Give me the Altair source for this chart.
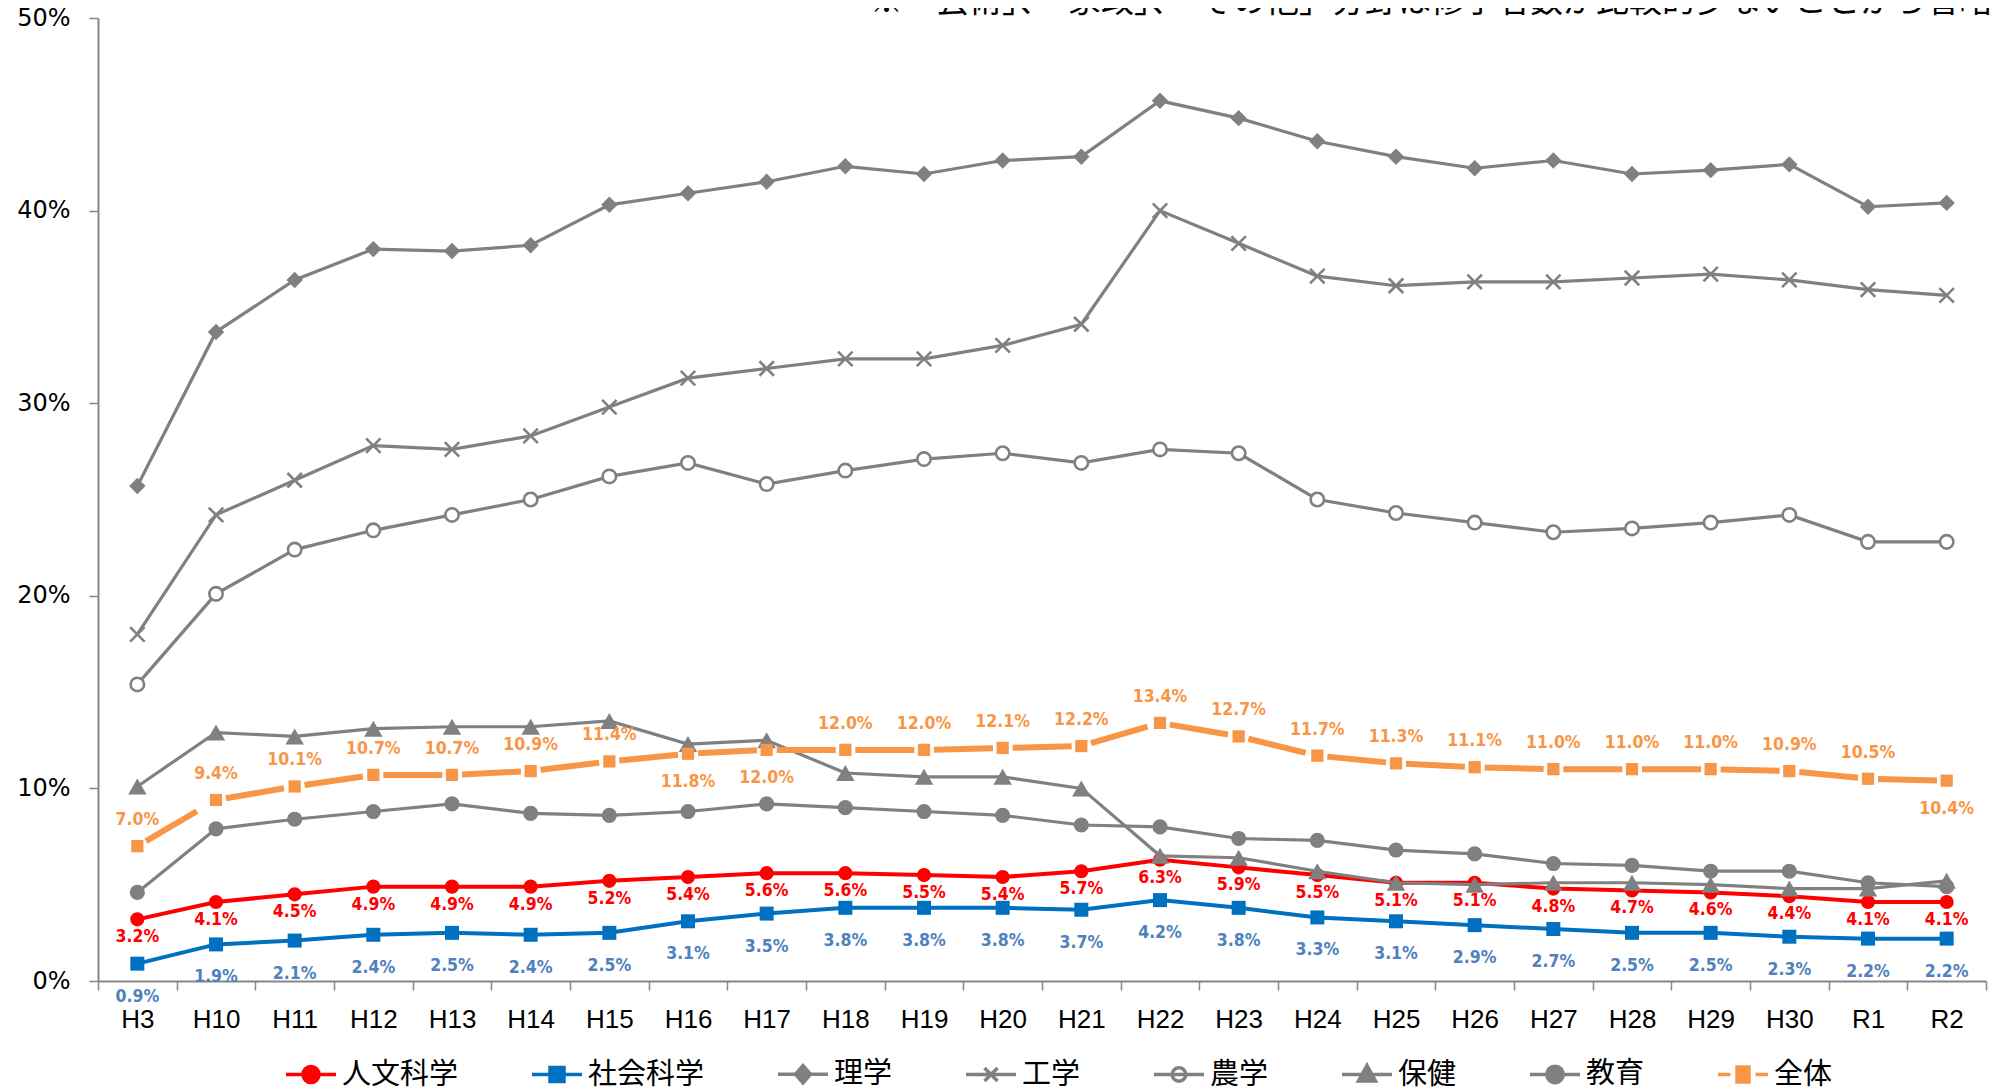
import altair as alt
import pandas as pd

YEARS = ["H3", "H10", "H11", "H12", "H13", "H14", "H15", "H16", "H17", "H18", "H19", "H20",
         "H21", "H22", "H23", "H24", "H25", "H26", "H27", "H28", "H29", "H30", "R1", "R2"]
SERIES = ["人文科学", "社会科学", "理学", "工学", "農学", "保健", "教育", "全体"]

JINBUN = [3.2, 4.1, 4.5, 4.9, 4.9, 4.9, 5.2, 5.4, 5.6, 5.6, 5.5, 5.4, 5.7, 6.3, 5.9, 5.5, 5.1, 5.1, 4.8, 4.7, 4.6, 4.4, 4.1, 4.1]
SHAKAI = [0.9, 1.9, 2.1, 2.4, 2.5, 2.4, 2.5, 3.1, 3.5, 3.8, 3.8, 3.8, 3.7, 4.2, 3.8, 3.3, 3.1, 2.9, 2.7, 2.5, 2.5, 2.3, 2.2, 2.2]
RIGAKU = [25.7, 33.7, 36.4, 38.0, 37.9, 38.2, 40.3, 40.9, 41.5, 42.3, 41.9, 42.6, 42.8, 45.7, 44.8, 43.6, 42.8, 42.2, 42.6, 41.9, 42.1, 42.4, 40.2, 40.4]
KOGAKU = [18.0, 24.2, 26.0, 27.8, 27.6, 28.3, 29.8, 31.3, 31.8, 32.3, 32.3, 33.0, 34.1, 40.0, 38.3, 36.6, 36.1, 36.3, 36.3, 36.5, 36.7, 36.4, 35.9, 35.6]
NOGAKU = [15.4, 20.1, 22.4, 23.4, 24.2, 25.0, 26.2, 26.9, 25.8, 26.5, 27.1, 27.4, 26.9, 27.6, 27.4, 25.0, 24.3, 23.8, 23.3, 23.5, 23.8, 24.2, 22.8, 22.8]
HOKEN = [10.1, 12.9, 12.7, 13.1, 13.2, 13.2, 13.5, 12.3, 12.5, 10.8, 10.6, 10.6, 10.0, 6.5, 6.4, 5.7, 5.1, 5.0, 5.1, 5.1, 5.0, 4.8, 4.8, 5.2]
KYOIKU = [4.6, 7.9, 8.4, 8.8, 9.2, 8.7, 8.6, 8.8, 9.2, 9.0, 8.8, 8.6, 8.1, 8.0, 7.4, 7.3, 6.8, 6.6, 6.1, 6.0, 5.7, 5.7, 5.1, 4.9]
ZENTAI = [7.0, 9.4, 10.1, 10.7, 10.7, 10.9, 11.4, 11.8, 12.0, 12.0, 12.0, 12.1, 12.2, 13.4, 12.7, 11.7, 11.3, 11.1, 11.0, 11.0, 11.0, 10.9, 10.5, 10.4]

ZENTAI_LABEL_BELOW = ["H16", "H17", "R2"]
NOTE = "※「芸術」、「家政」、「その他」分野は修了者数が比較的少ないことから省略"

VALUES = dict(zip(SERIES, [JINBUN, SHAKAI, RIGAKU, KOGAKU, NOGAKU, HOKEN, KYOIKU, ZENTAI]))

GRAY = "#808080"
RED = "#FF0000"
BLUE = "#0070C0"
ORANGE = "#F79646"

STYLE = {
    "人文科学": dict(color=RED, width=4, shape="circle", filled=True, size=200, sw=1),
    "社会科学": dict(color=BLUE, width=4, shape="square", filled=True, size=196, sw=1),
    "理学": dict(color=GRAY, width=3.2, shape="diamond", filled=True, size=270, sw=1),
    "工学": dict(color=GRAY, width=3.2, shape="M-1,-1L1,1M-1,1L1,-1", filled=False, size=210, sw=2.6),
    "農学": dict(color=GRAY, width=3.2, shape="circle", filled=False, size=180, sw=2.6),
    "保健": dict(color=GRAY, width=3.2, shape="triangle-up", filled=True, size=340, sw=1),
    "教育": dict(color=GRAY, width=3.2, shape="circle", filled=True, size=230, sw=1),
    "全体": dict(color=ORANGE, width=6, shape="square", filled=True, size=150, sw=1),
}

LINE = "M-1,0H1"
LEGEND_PATHS = [
    LINE + "M0.32,0A0.32,0.32,0,1,1,-0.32,0A0.32,0.32,0,1,1,0.32,0Z",
    LINE + "M-0.28,-0.28H0.28V0.28H-0.28Z",
    LINE + "M0,-0.34L0.3,0L0,0.34L-0.3,0Z",
    LINE + "M-0.26,-0.26L0.26,0.26M-0.26,0.26L0.26,-0.26",
    LINE + "M0.27,0A0.27,0.27,0,1,1,-0.27,0A0.27,0.27,0,1,1,0.27,0Z",
    LINE + "M0,-0.36L0.34,0.26L-0.34,0.26Z",
    LINE + "M0.33,0A0.33,0.33,0,1,1,-0.33,0A0.33,0.33,0,1,1,0.33,0Z",
    "M-1,0H-0.5M0.5,0H1M-0.24,-0.3H0.24V0.3H-0.24Z",
]
LEGEND_STROKES = [RED, BLUE, GRAY, GRAY, GRAY, GRAY, GRAY, ORANGE]
LEGEND_FILLS = [RED, BLUE, GRAY, GRAY, "#FFFFFF", GRAY, GRAY, ORANGE]

rows = [{"series": s, "year": y, "value": v} for s in SERIES for y, v in zip(YEARS, VALUES[s])]
df = pd.DataFrame(rows)

seg_rows = []
for i in range(len(YEARS) - 1):
    for j in (i, i + 1):
        seg_rows.append({"seg": i, "year": YEARS[j], "value": ZENTAI[j]})
seg_df = pd.DataFrame(seg_rows)

W, H = 1888, 963

X = alt.X("year:N", sort=YEARS,
          scale=alt.Scale(domain=YEARS, paddingInner=0, paddingOuter=0),
          axis=alt.Axis(title=None, labelAngle=0, tickBand="extent", labelFont="Liberation Sans",
                        labelFontSize=26, labelColor="#000000", labelPadding=16, tickSize=9,
                        domainColor="#868686", domainWidth=2, tickColor="#868686", tickWidth=1.5,
                        grid=False))
Y = alt.Y("value:Q", scale=alt.Scale(domain=[0, 50], nice=False),
          axis=alt.Axis(title=None, values=[0, 10, 20, 30, 40, 50], labelExpr="datum.value + '%'",
                        labelFont="DejaVu Sans", labelFontSize=24, labelColor="#000000",
                        labelPadding=19, tickSize=9, domainColor="#868686", domainWidth=2,
                        tickColor="#868686", tickWidth=1.5, grid=False))

base = alt.Chart(df).encode(x=X, y=Y)

layers = []
for s in SERIES:
    st = STYLE[s]
    if s == "全体":
        line = alt.Chart(seg_df).mark_line(
            color=st["color"], strokeWidth=st["width"], strokeDash=[0, 10, 59, 100], strokeCap="butt"
        ).encode(x=X, y=Y, detail="seg:N")
    else:
        line = base.transform_filter(alt.datum.series == s).mark_line(
            color=st["color"], strokeWidth=st["width"])
    layers.append(line)
    pt = base.transform_filter(alt.datum.series == s).mark_point(
        shape=st["shape"], filled=st["filled"], size=st["size"], color=st["color"],
        strokeWidth=st["sw"], opacity=1,
        fill=(st["color"] if st["filled"] else "#FFFFFF"))
    layers.append(pt)

LABEL_FONT = "Liberation Sans Narrow, DejaVu Sans Condensed, sans-serif"

def labels(series, color, dy, extra_filter=None):
    c = base.transform_filter(alt.datum.series == series)
    if extra_filter is not None:
        c = c.transform_filter(extra_filter)
    return c.transform_calculate(
        label="format(datum.value, '.1f') + '%'"
    ).mark_text(font=LABEL_FONT, fontWeight="bold", fontSize=17.5, color=color, dy=dy).encode(
        text="label:N")

below_expr = "indexof(" + str(ZENTAI_LABEL_BELOW).replace("'", '"') + ", datum.year) >= 0"
layers.append(labels("人文科学", RED, 18))
layers.append(labels("社会科学", "#4F81BD", 33))
layers.append(labels("全体", ORANGE, -26, "!(" + below_expr + ")"))
layers.append(labels("全体", ORANGE, 28, below_expr))

legend = alt.Legend(title=None, orient="none", legendX=186, legendY=1029, direction="horizontal",
                    columns=8, symbolSize=2500, symbolStrokeWidth=3.5, columnPadding=66,
                    labelFont="Noto Sans CJK JP", labelFontSize=29, labelColor="#000000",
                    labelOffset=4, labelLimit=400, padding=0, symbolOpacity=1)
legend_layer = alt.Chart(df).transform_filter("datum.value < 0").mark_point(
    opacity=1, strokeWidth=3.5
).encode(
    shape=alt.Shape("series:N", scale=alt.Scale(domain=SERIES, range=LEGEND_PATHS), legend=legend),
    stroke=alt.Stroke("series:N", scale=alt.Scale(domain=SERIES, range=LEGEND_STROKES), legend=legend),
    fill=alt.Fill("series:N", scale=alt.Scale(domain=SERIES, range=LEGEND_FILLS), legend=legend),
)
layers.append(legend_layer)

note = alt.Chart(pd.DataFrame({"note": [NOTE]})).mark_text(
    font="Noto Sans CJK JP", fontSize=33, align="right", baseline="alphabetic", color="#000000"
).encode(x=alt.value(W + 6), y=alt.value(-6), text="note:N")
layers.append(note)

chart = alt.layer(*layers).properties(
    width=W, height=H,
    autosize=alt.AutoSizeParams(type="none"),
    padding={"left": 90, "top": 10, "right": 10, "bottom": 109},
).configure_view(stroke=None)

chart.save("out.html", embed_options={"renderer": "svg", "actions": False})
